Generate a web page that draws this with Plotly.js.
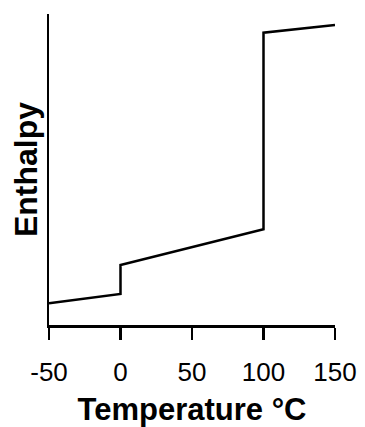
<!DOCTYPE html>
<html>
<head>
<meta charset="utf-8">
<script src="https://cdn.plot.ly/plotly-3.0.1.min.js"></script>
<style>html,body{margin:0;padding:0;background:#fff;}#chart{width:365px;height:427px;}</style>
</head>
<body>
<div id="chart"></div>
<script>
var temperature = [-50, 0, 0, 100, 100, 150];
var enthalpy = [7.0, 10.0, 19.3, 30.8, 94.0, 96.5];
var xTicks = [-50, 0, 50, 100, 150];
var xTickLabels = ["-50", "0", "50", "100", "150"];

var trace = {
  x: temperature,
  y: enthalpy,
  mode: "lines",
  type: "scatter",
  line: {color: "#000", width: 2.5},
  hoverinfo: "skip"
};

var layout = {
  width: 365,
  height: 427,
  margin: {l: 49, r: 30, t: 14, b: 102},
  paper_bgcolor: "#fff",
  plot_bgcolor: "#fff",
  showlegend: false,
  font: {family: "Liberation Sans, Arial, sans-serif", color: "#000"},
  xaxis: {
    range: [-50, 150],
    tickmode: "array",
    tickvals: xTicks,
    ticktext: xTickLabels,
    ticks: "outside",
    ticklen: 12,
    tickwidth: 2.5,
    tickcolor: "#000",
    ticklabelstandoff: 10,
    showline: true,
    linecolor: "#000",
    linewidth: 2.5,
    showgrid: false,
    zeroline: false,
    tickfont: {size: 26, color: "#000"},
    title: {text: "<b>Temperature °C</b>", font: {size: 31, color: "#000"}, standoff: 14}
  },
  yaxis: {
    range: [0, 100],
    showticklabels: false,
    ticks: "",
    showline: true,
    linecolor: "#000",
    linewidth: 2.5,
    showgrid: false,
    zeroline: false,
    title: {text: "<b>Enthalpy</b>", font: {size: 32, color: "#000"}, standoff: 0}
  }
};

Plotly.newPlot("chart", [trace], layout, {displayModeBar: false, staticPlot: true});
</script>
</body>
</html>
